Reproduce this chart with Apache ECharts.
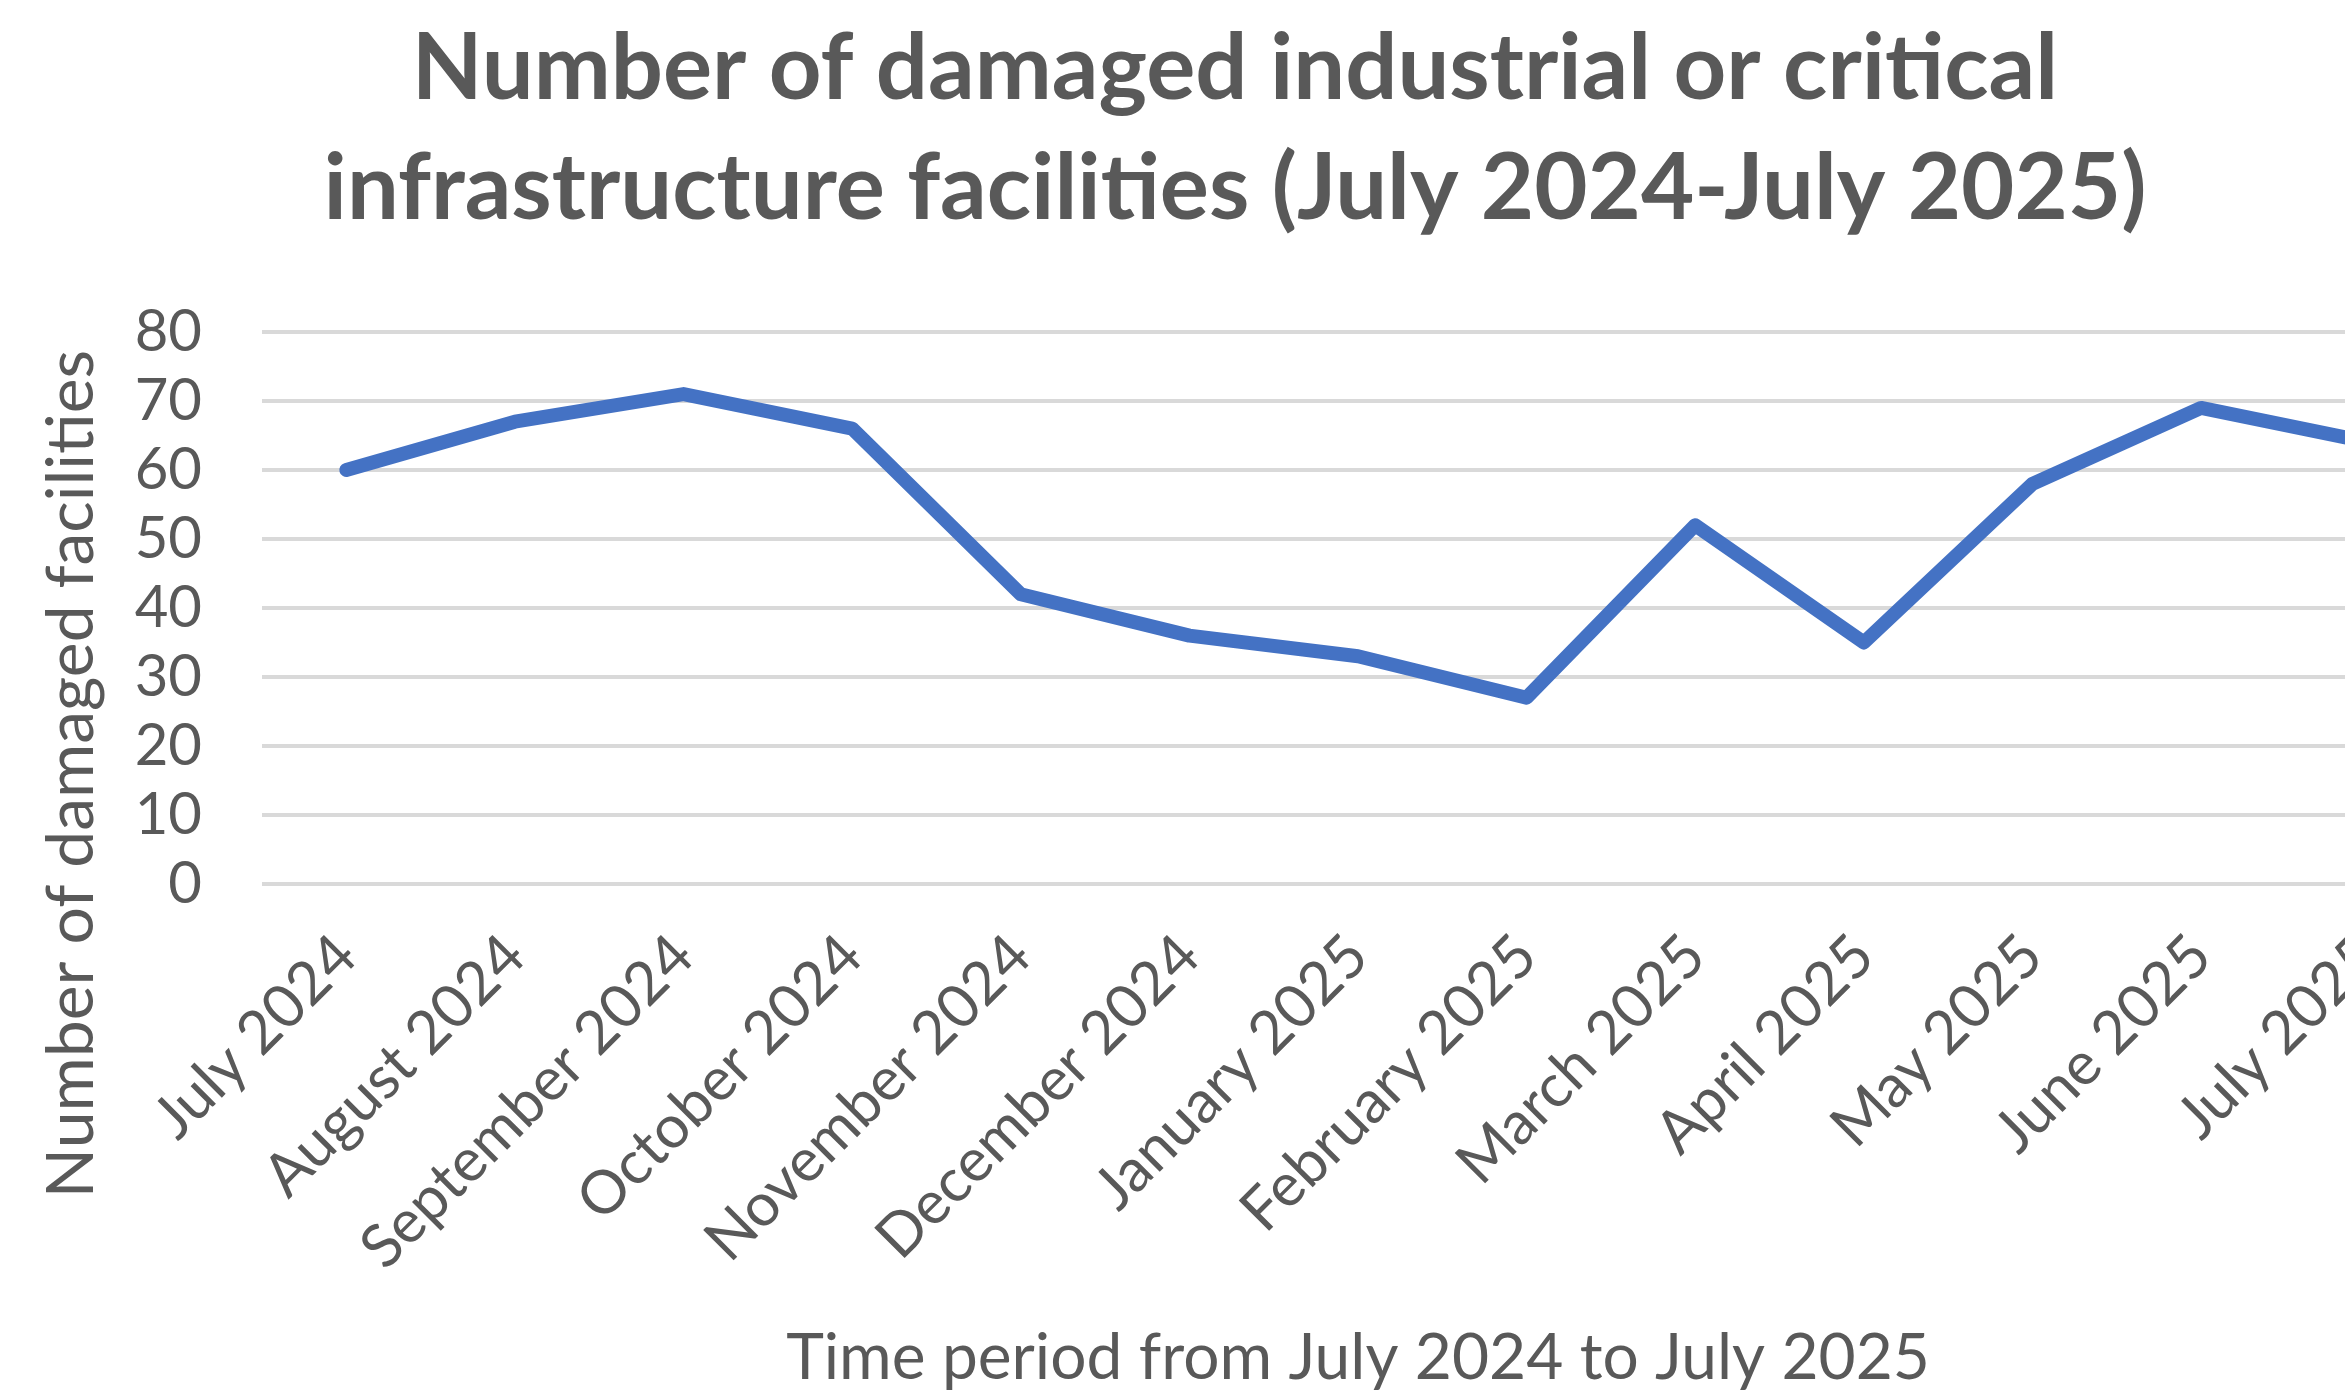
<!DOCTYPE html>
<html>
<head>
<meta charset="utf-8">
<script src="https://cdn.jsdelivr.net/npm/echarts@6/dist/echarts.min.js"></script>
<style>
html,body{margin:0;padding:0;background:#fff;overflow:hidden;width:2345px;height:1396px;}
#c{width:2470px;height:1396px;}
</style>
</head>
<body>
<div id="c"></div>
<script>
const months = ["July 2024","August 2024","September 2024","October 2024","November 2024","December 2024","January 2025","February 2025","March 2025","April 2025","May 2025","June 2025","July 2025"];
const damaged = [60, 67, 71, 66, 42, 36, 33, 27, 52, 35, 58, 69, 64];
const yTicks = [0, 10, 20, 30, 40, 50, 60, 70, 80];
const titleText = "Number of damaged industrial or critical\ninfrastructure facilities (July 2024-July 2025)";
const xName = "Time period from July 2024 to July 2025";
const yName = "Number of damaged facilities";

const chart = echarts.init(document.getElementById('c'), null, {renderer:'canvas'});
const gray = '#595959';
chart.setOption({
  animation:false,
  backgroundColor:'#ffffff',
  title:{
    text:titleText, left:'center', top:4,
    textStyle:{fontFamily:'Lato', fontWeight:'bold', fontSize:92, color:gray, lineHeight:120}
  },
  grid:{left:262, right:16, top:332, bottom:512, containLabel:false},
  xAxis:{
    type:'category', data:months, boundaryGap:true,
    axisLine:{show:false}, axisTick:{show:false},
    axisLabel:{rotate:45, margin:62, fontFamily:'Lato', fontSize:60, color:gray, interval:0},
    name:xName, nameLocation:'middle', nameGap:442,
    nameTextStyle:{fontFamily:'Lato', fontSize:64, color:gray}
  },
  yAxis:{
    type:'value', min:yTicks[0], max:yTicks[yTicks.length-1], interval:10,
    axisLine:{show:false}, axisTick:{show:false},
    splitLine:{lineStyle:{color:'#d9d9d9', width:4}},
    axisLabel:{margin:60, fontFamily:'Lato', fontSize:58, color:gray}
  },
  graphic:[{
    type:'text', x:72, y:774, rotation:Math.PI/2,
    style:{text:yName, fontFamily:'Lato', fontSize:66, fill:gray, align:'center', verticalAlign:'middle'}
  }],
  series:[{
    type:'line', data:damaged, symbol:'none',
    lineStyle:{color:'#4472c4', width:14, cap:'round', join:'round'}
  }]
});
</script>
</body>
</html>
